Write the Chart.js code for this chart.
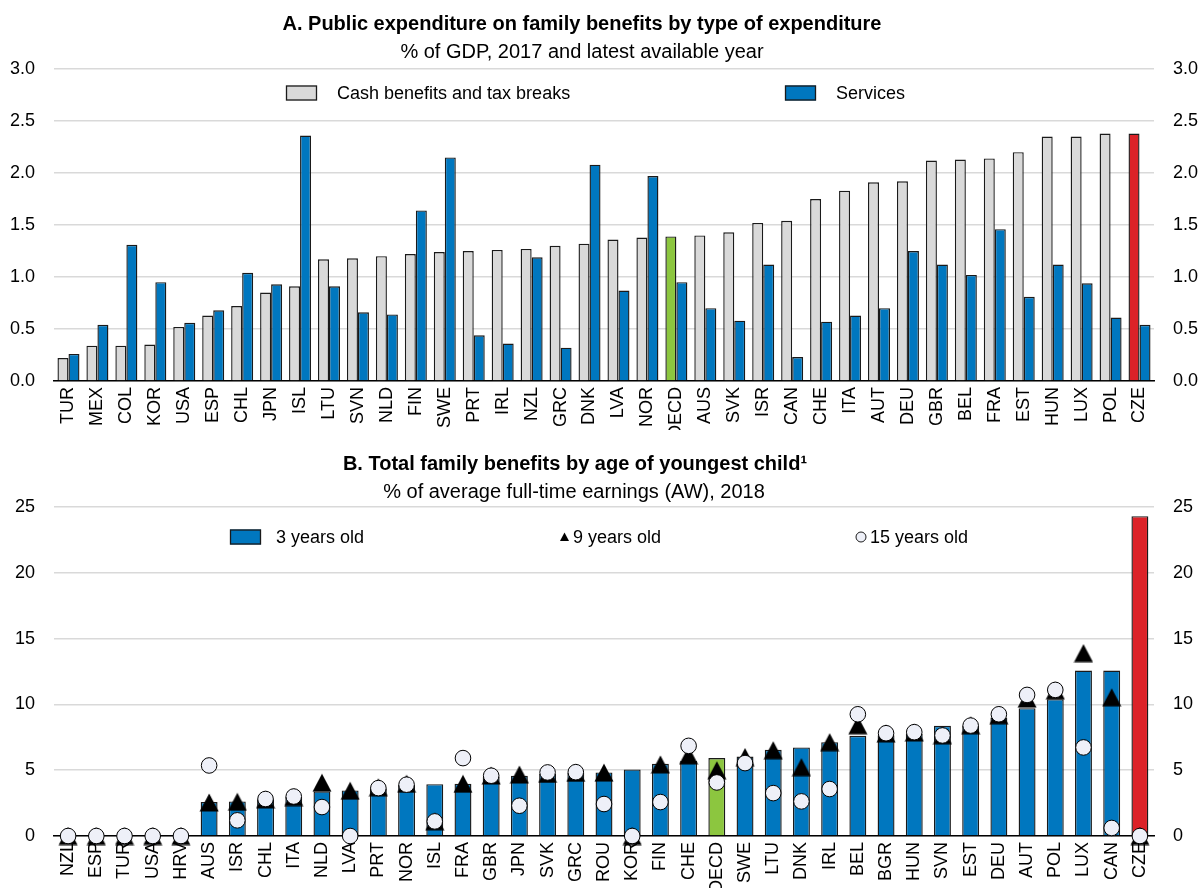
<!DOCTYPE html>
<html>
<head>
<meta charset="utf-8">
<script src="https://cdn.jsdelivr.net/npm/chart.js@4.4.1/dist/chart.umd.min.js"></script>
<style>
    body { margin: 0; background: #fff; }
    #page { position: relative; width: 1200px; height: 888px; overflow: hidden;
        font-family: "Liberation Sans Narrow", "Arial Narrow", "Liberation Sans", sans-serif; color: #000; }
    .panel { position: absolute; left: 0; width: 1200px; }
    .head { position: absolute; left: 0; text-align: center; font-size: 20px; line-height: 20px; white-space: nowrap; }
    .bold { font-weight: bold; }
</style>
</head>
<body>
<div id="page">
    <div class="panel" style="top:0;height:430px"><canvas id="chartA" width="1200" height="430"></canvas></div>
    <div class="panel" style="top:430px;height:458px"><canvas id="chartB" width="1200" height="458"></canvas></div>
    <div class="head bold" style="top:13px;width:1164px">A. Public expenditure on family benefits by type of expenditure</div>
    <div class="head" style="top:41px;width:1164px">% of GDP, 2017 and latest available year</div>
    <div class="head bold" style="top:453px;width:1150px">B. Total family benefits by age of youngest child¹</div>
    <div class="head" style="top:481px;width:1148px">% of average full-time earnings (AW), 2018</div>
</div>
<script>
const FONT = '"Liberation Sans Narrow", "Arial Narrow", "Liberation Sans", sans-serif';
const GREY = "#d9d9d9";
const BLUE = "#0077bf";
const GREEN = "#8cc63f";
const RED = "#dc2228";
const EDGE = "#1a1a1a";
const GRID = "#d9d9d9";

// Panel A: % of GDP
const countriesA = ["TUR", "MEX", "COL", "KOR", "USA", "ESP", "CHL", "JPN", "ISL", "LTU", "SVN", "NLD", "FIN", "SWE", "PRT", "IRL", "NZL", "GRC", "DNK", "LVA", "NOR", "OECD", "AUS", "SVK", "ISR", "CAN", "CHE", "ITA", "AUT", "DEU", "GBR", "BEL", "FRA", "EST", "HUN", "LUX", "POL", "CZE"];
const cashA = [0.22, 0.34, 0.34, 0.35, 0.52, 0.63, 0.72, 0.85, 0.91, 1.17, 1.18, 1.20, 1.22, 1.24, 1.25, 1.26, 1.27, 1.30, 1.32, 1.36, 1.38, 1.39, 1.40, 1.43, 1.52, 1.54, 1.75, 1.83, 1.91, 1.92, 2.12, 2.13, 2.14, 2.20, 2.35, 2.35, 2.38, 2.38];
const servicesA = [0.26, 0.54, 1.31, 0.95, 0.56, 0.68, 1.04, 0.93, 2.36, 0.91, 0.66, 0.64, 1.64, 2.15, 0.44, 0.36, 1.19, 0.32, 2.08, 0.87, 1.97, 0.95, 0.70, 0.58, 1.12, 0.23, 0.57, 0.63, 0.70, 1.25, 1.12, 1.02, 1.46, 0.81, 1.12, 0.94, 0.61, 0.54];
const ticksA = [0, 0.5, 1, 1.5, 2, 2.5, 3];

// Panel B: % of AW
const countriesB = ["NZL", "ESP", "TUR", "USA", "HRV", "AUS", "ISR", "CHL", "ITA", "NLD", "LVA", "PRT", "NOR", "ISL", "FRA", "GBR", "JPN", "SVK", "GRC", "ROU", "KOR", "FIN", "CHE", "OECD", "SWE", "LTU", "DNK", "IRL", "BEL", "BGR", "HUN", "SVN", "EST", "DEU", "AUT", "POL", "LUX", "CAN", "CZE"];
const age3 = [0, 0, 0, 0, 0, 2.58, 2.63, 2.80, 3.00, 3.39, 3.46, 3.60, 3.90, 3.94, 3.97, 4.50, 4.58, 4.72, 4.78, 4.83, 5.06, 5.49, 5.70, 5.92, 6.04, 6.55, 6.73, 7.13, 7.61, 7.65, 7.75, 8.37, 8.40, 9.00, 9.71, 10.40, 12.57, 12.57, 24.30];
const age9 = [0, 0, 0, 0, 0, 2.55, 2.60, 2.78, 2.96, 4.05, 3.44, 3.70, 3.97, 1.12, 3.97, 4.60, 4.67, 4.72, 4.80, 4.82, 0, 5.44, 6.13, 5.00, 6.00, 6.52, 5.23, 7.13, 8.42, 7.80, 7.87, 7.66, 8.42, 9.18, 10.44, 11.07, 13.90, 10.54, 0];
const age15 = [0, 0, 0, 0, 0, 5.36, 1.19, 2.81, 3.00, 2.20, 0, 3.64, 3.90, 1.11, 5.92, 4.58, 2.30, 4.83, 4.85, 2.43, 0, 2.58, 6.85, 4.07, 5.54, 3.26, 2.63, 3.57, 9.25, 7.81, 7.89, 7.64, 8.39, 9.25, 10.72, 11.10, 6.73, 0.61, 0];
const ticksB = [0, 5, 10, 15, 20, 25];

Chart.defaults.font.family = FONT;
Chart.defaults.font.size = 18;
Chart.defaults.color = "#000";

function highlight(names, base) {
    return names.map((c) => (c === "OECD" ? GREEN : c === "CZE" ? RED : base));
}

// triangle marker centred on its bounding box
const tri = document.createElement("canvas");
tri.width = 20;
tri.height = 19;
(function () {
    const t = tri.getContext("2d");
    t.beginPath();
    t.moveTo(10, 0.5);
    t.lineTo(19.5, 18.5);
    t.lineTo(0.5, 18.5);
    t.closePath();
    t.fillStyle = "#000";
    t.fill();
})();

// legend drawn over the plot area, one spot per dataset
function insideLegend(spots) {
    return {
        id: "insideLegend",
        afterDraw(chart) {
            const ctx = chart.ctx;
            ctx.save();
            ctx.font = "18px " + FONT;
            ctx.textBaseline = "middle";
            chart.data.datasets.forEach((ds, i) => {
                const s = spots[i];
                ctx.lineWidth = 1.3;
                ctx.strokeStyle = EDGE;
                if (s.kind === "box") {
                    ctx.fillStyle = s.color;
                    ctx.fillRect(s.x, s.y - 7.5, 31, 15);
                    ctx.strokeRect(s.x + 0.5, s.y - 7, 30, 14);
                } else if (s.kind === "tri") {
                    ctx.fillStyle = "#000";
                    ctx.beginPath();
                    ctx.moveTo(s.x + 4.5, s.y - 4.5);
                    ctx.lineTo(s.x + 9, s.y + 4);
                    ctx.lineTo(s.x, s.y + 4);
                    ctx.closePath();
                    ctx.fill();
                } else {
                    ctx.lineWidth = 1;
                    ctx.fillStyle = "#eef0f8";
                    ctx.beginPath();
                    ctx.arc(s.x + 5, s.y, 5, 0, Math.PI * 2);
                    ctx.fill();
                    ctx.stroke();
                }
                ctx.fillStyle = "#000";
                ctx.fillText(ds.label, s.tx, s.y + 1);
            });
            ctx.restore();
        },
    };
}

function yAxis(pos, max, step, fmt, width) {
    return {
        position: pos,
        min: 0,
        max: max,
        afterBuildTicks: (scale) => {
            scale.ticks = (max === 3 ? ticksA : ticksB).map((v) => ({ value: v }));
        },
        afterFit: (scale) => {
            scale.width = width;
        },
        grid: { display: pos === "left", color: GRID, lineWidth: 1.5, drawTicks: false },
        border: { display: false },
        ticks: { padding: 19, stepSize: step, callback: fmt },
    };
}

function xAxis(height) {
    return {
        offset: true,
        grid: { display: false, drawTicks: false },
        border: { display: true, color: "#000", width: 1.5 },
        afterFit: (scale) => {
            scale.height = height;
        },
        ticks: { autoSkip: false, maxRotation: 90, minRotation: 90, padding: 6 },
    };
}

new Chart(document.getElementById("chartA"), {
    type: "bar",
    data: {
        labels: countriesA,
        datasets: [
            {
                label: "Cash benefits and tax breaks",
                data: cashA,
                backgroundColor: highlight(countriesA, GREY),
                borderColor: EDGE,
                borderWidth: 1.4,
                categoryPercentage: 0.76,
                barPercentage: 1,
            },
            {
                label: "Services",
                data: servicesA,
                backgroundColor: BLUE,
                borderColor: EDGE,
                borderWidth: 1.4,
                categoryPercentage: 0.76,
                barPercentage: 1,
            },
        ],
    },
    options: {
        responsive: false,
        animation: false,
        layout: { padding: { top: 69, left: 0, right: 0, bottom: 0 } },
        scales: {
            x: xAxis(49),
            y: yAxis("left", 3, 0.5, (v) => v.toFixed(1), 54),
            y2: yAxis("right", 3, 0.5, (v) => v.toFixed(1), 46),
        },
        plugins: { legend: { display: false }, tooltip: { enabled: false } },
    },
    plugins: [
        insideLegend([
            { kind: "box", color: GREY, x: 286, y: 93, tx: 337 },
            { kind: "box", color: BLUE, x: 785, y: 93, tx: 836 },
        ]),
    ],
});

new Chart(document.getElementById("chartB"), {
    type: "bar",
    data: {
        labels: countriesB,
        datasets: [
            {
                label: "3 years old",
                data: age3,
                backgroundColor: highlight(countriesB, BLUE),
                borderColor: EDGE,
                borderWidth: 1.4,
                categoryPercentage: 1,
                barPercentage: 0.6,
                order: 2,
            },
            {
                type: "line",
                label: "9 years old",
                data: age9,
                showLine: false,
                pointStyle: tri,
                pointRadius: 10,
                clip: false,
                order: 1,
            },
            {
                type: "line",
                label: "15 years old",
                data: age15,
                showLine: false,
                pointStyle: "circle",
                pointRadius: 7.8,
                pointBackgroundColor: "#eef0f8",
                pointBorderColor: "#000",
                pointBorderWidth: 1,
                clip: false,
                order: 0,
            },
        ],
    },
    options: {
        responsive: false,
        animation: false,
        layout: { padding: { top: 77, left: 0, right: 0, bottom: 0 } },
        scales: {
            x: xAxis(52),
            y: yAxis("left", 25, 5, (v) => v, 54),
            y2: yAxis("right", 25, 5, (v) => v, 46),
        },
        plugins: { legend: { display: false }, tooltip: { enabled: false } },
    },
    plugins: [
        insideLegend([
            { kind: "box", color: BLUE, x: 230, y: 107, tx: 276 },
            { kind: "tri", x: 560, y: 107, tx: 573 },
            { kind: "circle", x: 856, y: 107, tx: 870 },
        ]),
    ],
});
</script>
</body>
</html>
